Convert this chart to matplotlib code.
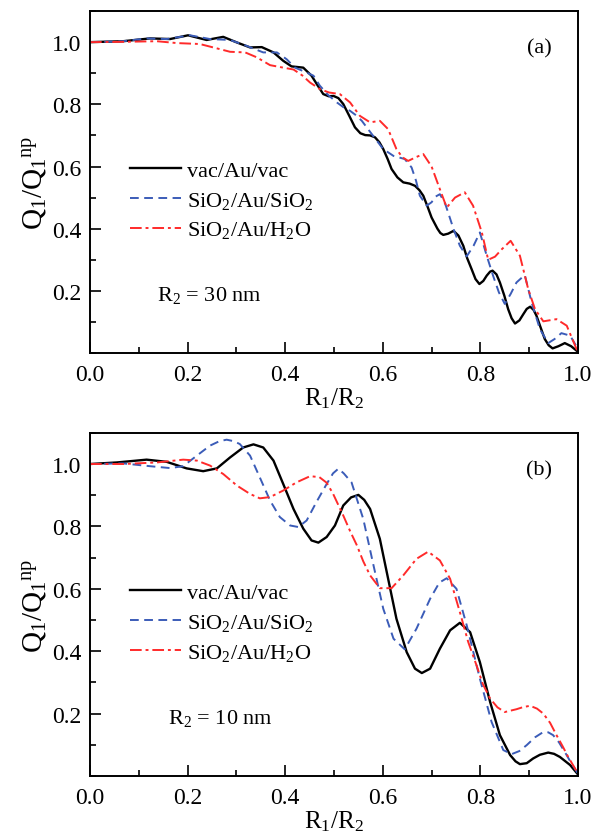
import matplotlib
matplotlib.use("Agg")
import matplotlib.pyplot as plt
from matplotlib.ticker import MultipleLocator

plt.rcParams["font.family"] = "serif"
plt.rcParams["font.serif"] = ["Liberation Serif", "DejaVu Serif"]
plt.rcParams["mathtext.fontset"] = "custom"
plt.rcParams["mathtext.rm"] = "Liberation Serif"
plt.rcParams["mathtext.it"] = "Liberation Serif:italic"
plt.rcParams["mathtext.default"] = "regular"

# ---- panel (a), R2 = 30 nm
xa_vac = [0, 0.068, 0.123, 0.164, 0.201, 0.239, 0.273, 0.301, 0.328, 0.352, 0.376,
          0.396, 0.413, 0.437, 0.454, 0.466, 0.478, 0.489, 0.499, 0.509, 0.519, 0.531,
          0.543, 0.554, 0.564, 0.574, 0.584, 0.593, 0.601, 0.610, 0.618, 0.630, 0.642,
          0.655, 0.666, 0.675, 0.683, 0.692, 0.700, 0.712, 0.718, 0.724, 0.734, 0.745,
          0.755, 0.765, 0.773, 0.782, 0.790, 0.798, 0.806, 0.813, 0.820, 0.825, 0.833,
          0.840, 0.849, 0.857, 0.864, 0.871, 0.880, 0.888, 0.895, 0.902, 0.909, 0.915,
          0.924, 0.932, 0.940, 0.948, 0.960, 0.973, 0.986, 1.0]
ya_vac = [1.0, 1.003, 1.012, 1.010, 1.022, 1.007, 1.017, 0.999, 0.983, 0.984, 0.967,
          0.940, 0.922, 0.918, 0.892, 0.862, 0.833, 0.826, 0.827, 0.820, 0.801, 0.764,
          0.726, 0.707, 0.701, 0.700, 0.694, 0.678, 0.656, 0.624, 0.592, 0.565, 0.549,
          0.545, 0.538, 0.524, 0.506, 0.470, 0.436, 0.400, 0.386, 0.380, 0.384, 0.393,
          0.378, 0.345, 0.305, 0.270, 0.238, 0.222, 0.232, 0.249, 0.262, 0.265, 0.253,
          0.227, 0.185, 0.141, 0.112, 0.095, 0.105, 0.125, 0.142, 0.149, 0.139, 0.120,
          0.080, 0.045, 0.025, 0.015, 0.022, 0.032, 0.022, 0.004]

xa_sio2 = [0, 0.068, 0.116, 0.157, 0.205, 0.246, 0.287, 0.321, 0.355, 0.383, 0.403,
           0.420, 0.440, 0.458, 0.471, 0.488, 0.506, 0.520, 0.533, 0.545, 0.557, 0.580,
           0.601, 0.622, 0.645, 0.659, 0.668, 0.676, 0.690, 0.700, 0.708, 0.717, 0.728,
           0.745, 0.758, 0.772, 0.786, 0.799, 0.813, 0.826, 0.838, 0.850, 0.862, 0.874,
           0.891, 0.905, 0.922, 0.939, 0.952, 0.966, 0.984, 1.0]
ya_sio2 = [1.0, 1.003, 1.012, 1.010, 1.022, 1.010, 1.007, 0.988, 0.967, 0.967, 0.945,
           0.918, 0.905, 0.892, 0.860, 0.830, 0.806, 0.790, 0.779, 0.765, 0.747, 0.699,
           0.656, 0.634, 0.624, 0.597, 0.555, 0.506, 0.474, 0.485, 0.503, 0.511, 0.480,
           0.399, 0.345, 0.311, 0.345, 0.388, 0.313, 0.249, 0.195, 0.158, 0.190, 0.227,
           0.251, 0.163, 0.077, 0.032, 0.045, 0.064, 0.056, 0.013]

xa_h2o = [0, 0.068, 0.137, 0.178, 0.225, 0.260, 0.287, 0.318, 0.342, 0.369, 0.396,
          0.417, 0.435, 0.451, 0.471, 0.490, 0.512, 0.533, 0.553, 0.574, 0.594, 0.611,
          0.628, 0.640, 0.652, 0.668, 0.683, 0.700, 0.717, 0.731, 0.748, 0.768, 0.785,
          0.803, 0.816, 0.830, 0.844, 0.862, 0.881, 0.898, 0.912, 0.929, 0.956, 0.977, 1.0]
ya_h2o = [1.0, 1.001, 1.003, 0.997, 0.994, 0.980, 0.969, 0.967, 0.951, 0.926, 0.918,
          0.912, 0.893, 0.870, 0.849, 0.838, 0.833, 0.806, 0.763, 0.742, 0.747, 0.720,
          0.656, 0.630, 0.618, 0.630, 0.640, 0.600, 0.527, 0.468, 0.500, 0.517, 0.474,
          0.388, 0.300, 0.310, 0.334, 0.361, 0.313, 0.206, 0.141, 0.102, 0.109, 0.088, 0.002]

# ---- panel (b), R2 = 10 nm
xb_vac = [0, 0.055, 0.116, 0.157, 0.198, 0.232, 0.260, 0.287, 0.314, 0.335, 0.355,
          0.376, 0.396, 0.417, 0.437, 0.454, 0.468, 0.485, 0.502, 0.519, 0.535, 0.550,
          0.562, 0.574, 0.594, 0.611, 0.628, 0.649, 0.666, 0.680, 0.697, 0.717, 0.738,
          0.758, 0.779, 0.799, 0.820, 0.840, 0.861, 0.872, 0.881, 0.895, 0.908, 0.922,
          0.939, 0.951, 0.963, 0.984, 1.0]
yb_vac = [1.0, 1.005, 1.014, 1.007, 0.986, 0.977, 0.986, 1.021, 1.053, 1.063, 1.053,
          1.011, 0.936, 0.856, 0.793, 0.755, 0.748, 0.766, 0.803, 0.867, 0.893, 0.901,
          0.885, 0.856, 0.760, 0.632, 0.504, 0.397, 0.344, 0.330, 0.344, 0.408, 0.467,
          0.491, 0.461, 0.365, 0.237, 0.131, 0.067, 0.047, 0.038, 0.041, 0.056, 0.068,
          0.075, 0.071, 0.061, 0.035, 0.005]

xb_sio2 = [0, 0.068, 0.123, 0.164, 0.191, 0.219, 0.246, 0.265, 0.280, 0.295, 0.307,
           0.328, 0.348, 0.369, 0.389, 0.410, 0.427, 0.444, 0.464, 0.485, 0.498, 0.509,
           0.520, 0.536, 0.560, 0.581, 0.601, 0.622, 0.645, 0.669, 0.697, 0.716, 0.731,
           0.751, 0.772, 0.799, 0.823, 0.847, 0.864, 0.880, 0.895, 0.912, 0.929, 0.939,
           0.949, 0.961, 0.973, 0.986, 1.0]
yb_sio2 = [1.0, 1.002, 0.993, 0.987, 0.993, 1.027, 1.059, 1.073, 1.078, 1.073, 1.064,
           1.027, 0.957, 0.883, 0.830, 0.803, 0.798, 0.819, 0.878, 0.936, 0.970, 0.985,
           0.970, 0.941, 0.824, 0.675, 0.536, 0.440, 0.406, 0.472, 0.568, 0.620, 0.634,
           0.600, 0.483, 0.312, 0.173, 0.083, 0.070, 0.080, 0.099, 0.124, 0.141, 0.140,
           0.131, 0.108, 0.077, 0.042, 0.008]

xb_h2o = [0, 0.068, 0.137, 0.191, 0.219, 0.246, 0.273, 0.301, 0.328, 0.348, 0.369,
          0.396, 0.423, 0.451, 0.470, 0.485, 0.498, 0.519, 0.533, 0.547, 0.560, 0.574,
          0.594, 0.618, 0.642, 0.669, 0.693, 0.717, 0.738, 0.758, 0.775, 0.792, 0.805,
          0.820, 0.835, 0.850, 0.874, 0.888, 0.902, 0.916, 0.929, 0.943, 0.956, 0.968,
          0.980, 1.0]
yb_h2o = [1.0, 1.0, 1.005, 1.014, 1.011, 0.995, 0.968, 0.931, 0.904, 0.890, 0.894,
          0.915, 0.941, 0.961, 0.958, 0.940, 0.905, 0.835, 0.785, 0.739, 0.688, 0.643,
          0.602, 0.602, 0.643, 0.696, 0.719, 0.691, 0.632, 0.525, 0.430, 0.355, 0.295,
          0.248, 0.220, 0.205, 0.214, 0.221, 0.225, 0.216, 0.200, 0.170, 0.131, 0.097,
          0.061, 0.008]

labels = ["vac/Au/vac", "SiO$_2$/Au/SiO$_2$", "SiO$_2$/Au/H$_2$O"]
BLUE = "#3b5cb8"
RED = "#ff2a2a"

fig = plt.figure(figsize=(5.98, 8.37), dpi=100)
ax_a = fig.add_axes([0.1505, 0.577, 0.816, 0.4086])
ax_b = fig.add_axes([0.1505, 0.0717, 0.816, 0.410])

panels = [
    (ax_a, (xa_vac, ya_vac), (xa_sio2, ya_sio2), (xa_h2o, ya_h2o), "(a)", "R$_2$ = 30 nm"),
    (ax_b, (xb_vac, yb_vac), (xb_sio2, yb_sio2), (xb_h2o, yb_h2o), "(b)", "R$_2$ = 10 nm"),
]

for ax, vac, sio2, h2o, tag, note in panels:
    ax.plot(*vac, color="black", lw=1.7, label=labels[0])
    ax.plot(*sio2, color=BLUE, lw=1.4, dashes=(4.5, 2.8), label=labels[1])
    ax.plot(*h2o, color=RED, lw=1.4, dashes=(6, 2, 1.5, 2), label=labels[2])

    ax.set_xlim(0, 1.0)
    ax.set_ylim(0, 1.1)
    ax.set_xticks([0, 0.2, 0.4, 0.6, 0.8, 1.0])
    ax.set_yticks([0.2, 0.4, 0.6, 0.8, 1.0])
    ax.xaxis.set_minor_locator(MultipleLocator(0.1))
    ax.yaxis.set_minor_locator(MultipleLocator(0.1))
    ax.xaxis.set_major_formatter(plt.FormatStrFormatter("%.1f"))
    ax.yaxis.set_major_formatter(plt.FormatStrFormatter("%.1f"))
    ax.tick_params(which="both", direction="in", top=False, right=False, width=1.2,
                   labelsize=17)
    ax.tick_params(which="major", length=8, pad=6)
    ax.tick_params(axis="x", which="major", pad=8)
    ax.tick_params(which="minor", length=4)
    for s in ax.spines.values():
        s.set_linewidth(1.4)

    ax.set_xlabel("R$_1$/R$_2$", fontsize=18, labelpad=0)
    ax.set_ylabel("Q$_1$/Q$_1$$^{np}$", fontsize=21)
    ax.yaxis.set_label_coords(-0.085, 0.5)

    ax.text(0.921, 0.893, tag, transform=ax.transAxes, fontsize=16,
            ha="center", va="center")
    ax.text(0.137 if tag == "(a)" else 0.159, 0.17, note, transform=ax.transAxes,
            fontsize=16, ha="left", va="center")
    ax.legend(loc="upper left", bbox_to_anchor=(0.063, 0.59), frameon=False,
              fontsize=16, handlelength=2.3, handletextpad=0.3, labelspacing=0.4,
              borderaxespad=0.0)

fig.savefig("out.png", dpi=100)
